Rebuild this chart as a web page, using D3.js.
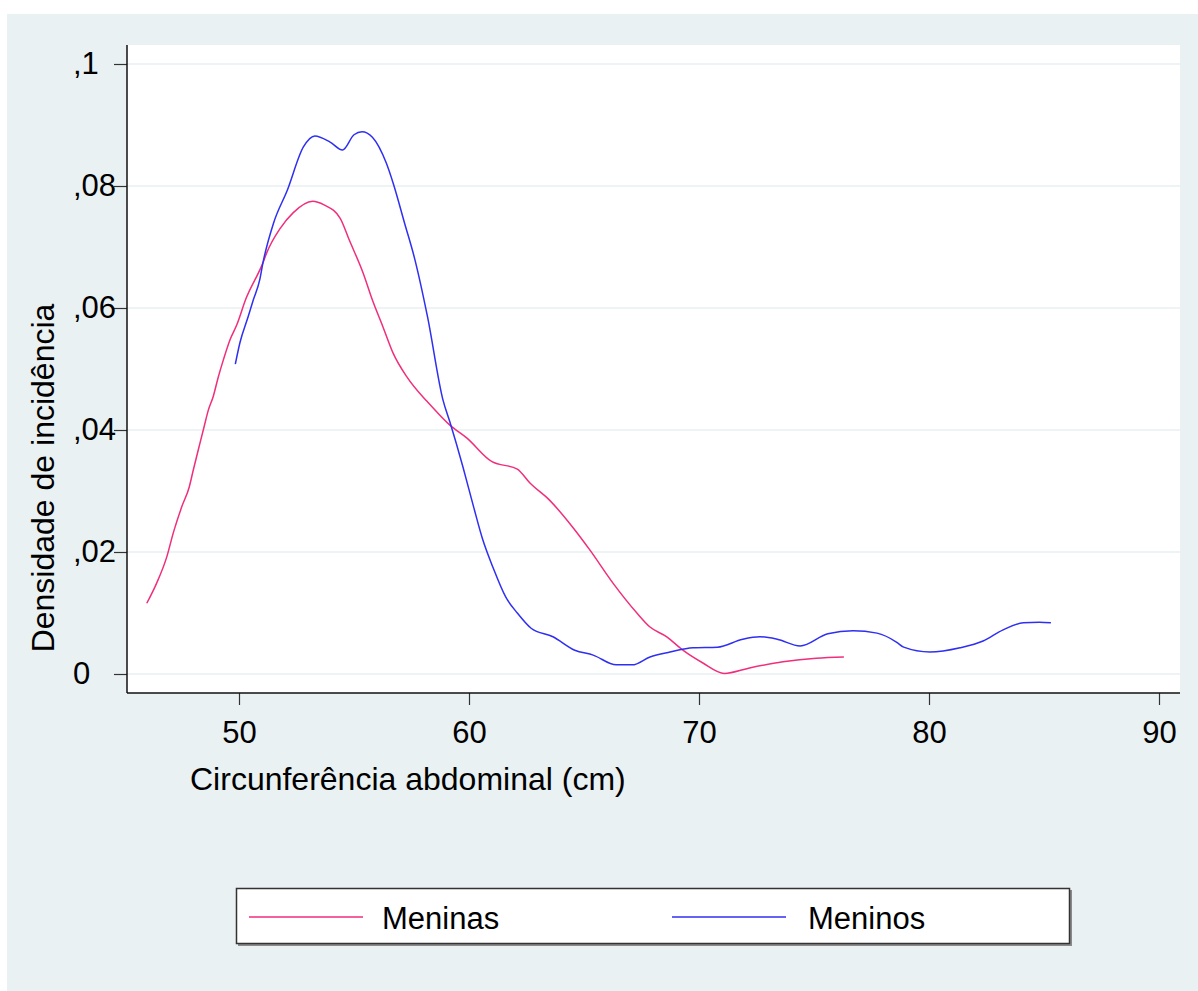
<!DOCTYPE html>
<html>
<head>
<meta charset="utf-8">
<script src="https://cdn.jsdelivr.net/npm/d3@7"></script>
<style>
  html, body { margin: 0; padding: 0; background: #ffffff; }
  svg { display: block; }
  text { font-family: "Liberation Sans", Arial, sans-serif; fill: #000; }
</style>
</head>
<body>
<svg id="chart" width="1198" height="991"></svg>
<script>
// Kernel density estimates of waist circumference, by sex
const meninasX = [45.99, 46.42, 46.86, 47.14, 47.51, 47.84, 48.01, 48.30, 48.48, 48.67, 48.88, 49.10, 49.32, 49.61, 49.90, 50.30, 51.04, 51.20, 51.80, 52.35, 53.20, 53.70, 54.40, 54.80, 55.40, 55.80, 56.26, 56.70, 57.30, 58.00, 58.20, 59.17, 59.90, 61.00, 62.10, 62.65, 63.50, 64.50, 65.26, 66.26, 67.30, 67.87, 68.60, 69.30, 70.17, 71.10, 72.20, 73.65, 75.10, 76.30];
const meninasY = [0.0116, 0.0149, 0.0192, 0.0231, 0.0274, 0.0307, 0.0334, 0.0378, 0.0405, 0.0433, 0.0455, 0.0487, 0.0515, 0.0548, 0.0572, 0.0615, 0.0674, 0.0690, 0.0731, 0.0756, 0.0775, 0.0769, 0.0747, 0.0711, 0.0657, 0.0613, 0.0569, 0.0526, 0.0487, 0.0454, 0.0446, 0.0408, 0.0387, 0.0348, 0.0336, 0.0313, 0.0285, 0.0241, 0.0203, 0.0149, 0.0100, 0.0077, 0.0061, 0.0039, 0.0018, 0.0001, 0.0010, 0.0020, 0.0026, 0.0028];

const meninosX = [49.84, 50.04, 50.40, 50.62, 50.90, 51.04, 51.50, 52.10, 52.80, 53.30, 53.96, 54.50, 55.00, 55.35, 55.80, 56.40, 56.70, 57.20, 57.65, 58.20, 58.87, 59.17, 59.74, 60.20, 60.60, 61.04, 61.60, 62.10, 62.70, 63.65, 64.60, 65.40, 66.40, 67.10, 67.87, 68.74, 69.74, 70.80, 71.90, 72.65, 73.40, 74.40, 75.60, 76.70, 77.74, 78.60, 78.90, 80.04, 81.35, 82.35, 83.20, 84.10, 84.80, 85.30];
const meninosY = [0.0508, 0.0543, 0.0586, 0.0613, 0.0646, 0.0674, 0.0739, 0.0793, 0.0864, 0.0882, 0.0872, 0.0859, 0.0884, 0.0889, 0.0880, 0.0838, 0.0805, 0.0739, 0.0679, 0.0585, 0.0449, 0.0413, 0.0339, 0.0274, 0.0220, 0.0175, 0.0126, 0.0100, 0.0075, 0.0061, 0.0039, 0.0031, 0.0015, 0.0015, 0.0028, 0.0036, 0.0043, 0.0044, 0.0057, 0.0061, 0.0057, 0.0046, 0.0066, 0.0071, 0.0067, 0.0052, 0.0044, 0.0036, 0.0043, 0.0054, 0.0072, 0.0084, 0.0085, 0.0084];

const seriesNames = ["Meninas", "Meninos"];
const seriesColors = ["#f02e7c", "#2f2ff2"];

const xTicks = [50, 60, 70, 80, 90];
const yTicks = [0, 0.02, 0.04, 0.06, 0.08, 0.1];
const yTickLabels = ["0", ",02", ",04", ",06", ",08", ",1"];

const xTitle = "Circunferência abdominal (cm)";
const yTitle = "Densidade de incidência";

const svg = d3.select("#chart");
const bg = "#e9f1f3";
const font = "Liberation Sans, Arial, sans-serif";

// outer graph region
svg.append("rect").attr("x", 7).attr("y", 14).attr("width", 1191).attr("height", 977).attr("fill", bg);

// plot region
const plot = { left: 127, right: 1180, top: 45, bottom: 693 };
svg.append("rect")
  .attr("x", plot.left).attr("y", plot.top)
  .attr("width", plot.right - plot.left).attr("height", plot.bottom - plot.top)
  .attr("fill", "#ffffff");

const x = d3.scaleLinear().domain([50, 90]).range([239, 1159]);
const y = d3.scaleLinear().domain([0, 0.1]).range([674, 64]);

// horizontal grid
svg.append("g").selectAll("line").data(yTicks).join("line")
  .attr("x1", plot.left).attr("x2", plot.right)
  .attr("y1", d => y(d)).attr("y2", d => y(d))
  .attr("stroke", bg).attr("stroke-width", 1.5);

// y axis: labels are left-aligned in a column next to the ticks
const yAxis = d3.axisLeft(y).tickValues(yTicks)
  .tickFormat((d, i) => yTickLabels[i]).tickSize(13).tickPadding(16);
const gy = svg.append("g").attr("transform", `translate(${plot.left},0)`).call(yAxis);
gy.select(".domain").remove();
gy.selectAll(".tick line").attr("stroke", "#333").attr("stroke-width", 1.2);
gy.selectAll(".tick text")
  .style("font-size", "31px").attr("font-family", font).attr("fill", "#000")
  .attr("text-anchor", "start").attr("x", 73 - plot.left);
svg.append("line").attr("x1", plot.left).attr("x2", plot.left)
  .attr("y1", plot.top).attr("y2", plot.bottom).attr("stroke", "#111").attr("stroke-width", 1.5);

// x axis
const xAxis = d3.axisBottom(x).tickValues(xTicks).tickFormat(d3.format("d")).tickSize(12).tickPadding(16);
const gx = svg.append("g").attr("transform", `translate(0,${plot.bottom})`).call(xAxis);
gx.select(".domain").remove();
gx.selectAll(".tick line").attr("stroke", "#333").attr("stroke-width", 1.2);
gx.selectAll(".tick text").style("font-size", "31px").attr("font-family", font).attr("fill", "#000");
svg.append("line").attr("x1", plot.left).attr("x2", plot.right)
  .attr("y1", plot.bottom).attr("y2", plot.bottom).attr("stroke", "#111").attr("stroke-width", 1.5);

// axis titles
svg.append("text").attr("x", 190).attr("y", 790)
  .style("font-size", "32px").text(xTitle);
svg.append("text")
  .attr("transform", "translate(54,478) rotate(-90)")
  .attr("text-anchor", "middle")
  .style("font-size", "32px").text(yTitle);

// density curves
const series = [
  d3.zip(meninasX, meninasY),
  d3.zip(meninosX, meninosY)
];
const lineGen = d3.line().x(d => x(d[0])).y(d => y(d[1])).curve(d3.curveMonotoneX);
series.forEach((pts, i) => {
  svg.append("path").datum(pts)
    .attr("fill", "none").attr("stroke", seriesColors[i])
    .attr("stroke-width", 1.5).attr("stroke-linejoin", "round")
    .attr("d", lineGen);
});

// legend
const lg = svg.append("g");
lg.append("rect").attr("x", 238).attr("y", 890).attr("width", 834).attr("height", 56).attr("fill", "#8a8a8a");
lg.append("rect").attr("x", 236.5).attr("y", 888.5).attr("width", 833).attr("height", 55)
  .attr("fill", "#ffffff").attr("stroke", "#333").attr("stroke-width", 1.5);
const legendLineX = [249, 672];
const legendTextX = [382, 808];
seriesNames.forEach((name, i) => {
  lg.append("line").attr("x1", legendLineX[i]).attr("x2", legendLineX[i] + 114)
    .attr("y1", 917).attr("y2", 917).attr("stroke", seriesColors[i]).attr("stroke-width", 1.5);
  lg.append("text").attr("x", legendTextX[i]).attr("y", 929)
    .style("font-size", "31px").text(name);
});
</script>
</body>
</html>
